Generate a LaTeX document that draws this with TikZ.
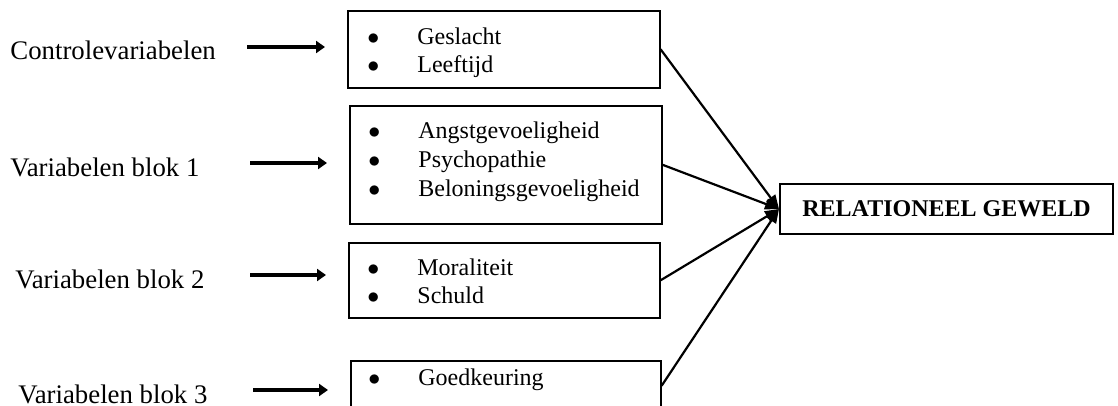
\documentclass[tikz,border=0pt]{standalone}
\usepackage{fontspec}
\setmainfont{Liberation Serif}
\usetikzlibrary{arrows.meta}
\newcommand{\bul}[1]{\makebox[25pt][l]{$\bullet$}#1}

\begin{document}
\begin{tikzpicture}[x=0.5pt,y=-0.5pt,
        listbox/.style={draw, line width=0.8pt, anchor=north west, inner sep=0pt},
        item/.style={anchor=base west, inner sep=0pt, font=\fontsize{12}{14.5}\selectfont},
        blocklabel/.style={anchor=base west, inner sep=0pt, font=\fontsize{13.4}{16}\selectfont},
        fatarrow/.style={line width=2pt, -{Triangle[length=4.5pt,width=6pt]}, shorten >=11pt},
        thinarrow/.style={line width=1.1pt, -{Triangle[length=7pt,width=5.5pt]}}]
                \useasboundingbox (0,0) rectangle (1118,406);
                \clip (0,0) rectangle (1118,406);

                \node[blocklabel] (lab0) at (10,60) {Controlevariabelen};
                \node[blocklabel] (lab1) at (10,177) {Variabelen blok 1};
                \node[blocklabel] (lab2) at (15,288) {Variabelen blok 2};
                \node[blocklabel] (lab3) at (18,403) {Variabelen blok 3};

                \node[listbox, minimum width=156pt, minimum height=38.5pt] (box0) at (347,10) {};
                \node[listbox, minimum width=156pt, minimum height=59pt] (box1) at (349,105) {};
                \node[listbox, minimum width=155.5pt, minimum height=37.5pt] (box2) at (348,242) {};
                \node[listbox, minimum width=155pt, minimum height=25pt] (box3) at (350,360) {};

                \node[item] (g1) at (367,45) {\bul{Geslacht}};
                \node[item] (g2) at (367,73) {\bul{Leeftijd}};
                \node[item] (b1) at (368,139) {\bul{Angstgevoeligheid}};
                \node[item] (b2) at (368,168) {\bul{Psychopathie}};
                \node[item] (b3) at (368,197) {\bul{Beloningsgevoeligheid}};
                \node[item] (m1) at (367,275) {\bul{Moraliteit}};
                \node[item] (m2) at (367,303) {\bul{Schuld}};
                \node[item] (k1) at (368,385) {\bul{Goedkeuring}};

                \node[draw, line width=1pt, minimum width=166.5pt, minimum height=25pt, inner sep=0pt,
                    font=\bfseries\fontsize{12}{14.5}\selectfont] (geweld) at (946.5,209) {RELATIONEEL GEWELD};

                \coordinate (a0) at (247,47);
                \coordinate (a1) at (250,163);
                \coordinate (a2) at (250,275);
                \coordinate (a3) at (253,390);
                \draw[fatarrow] (a0) -- (a0 -| box0.west);
                \draw[fatarrow] (a1) -- (a1 -| box1.west);
                \draw[fatarrow] (a2) -- (a2 -| box2.west);
                \draw[fatarrow] (a3) -- (a3 -| box3.west);

                \draw[thinarrow] (box0.east) -- (geweld.west);
                \draw[thinarrow] (box1.east) -- (geweld.west);
                \draw[thinarrow] (box2.east) -- (geweld.west);
                \draw[thinarrow] (box3.east) -- (geweld.west);
\end{tikzpicture}
\end{document}
